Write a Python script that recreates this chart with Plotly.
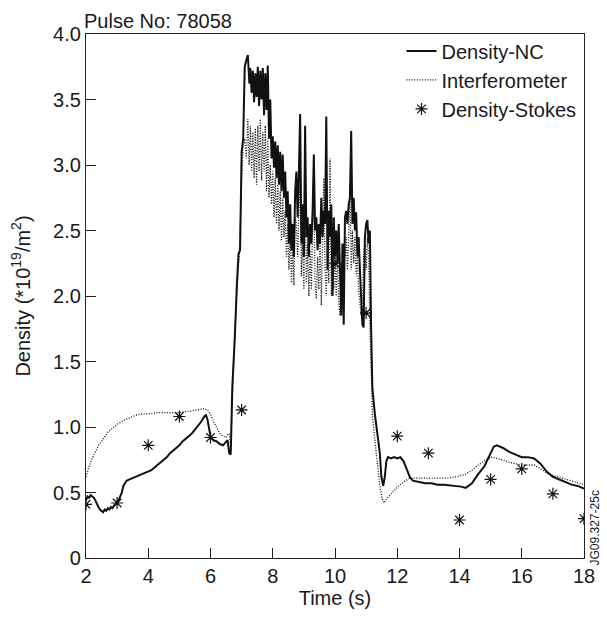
import plotly.graph_objects as go

# ---------------- data ----------------
nc_t = [2.0, 2.05, 2.1, 2.15, 2.2, 2.25, 2.3, 2.35, 2.4, 2.45, 2.5, 2.55, 2.6, 2.65, 2.7, 2.75, 2.8, 2.85, 2.9, 2.95,
        3.0, 3.05, 3.1, 3.15, 3.2, 3.25, 3.3, 3.4, 3.5, 3.6, 3.7, 3.8, 3.9, 4.0, 4.1, 4.2, 4.3, 4.4, 4.5, 4.6, 4.7,
        4.8, 4.9, 5.0, 5.1, 5.2, 5.3, 5.4, 5.5, 5.6, 5.7, 5.8, 5.85, 5.9, 5.95, 6.0, 6.05, 6.1, 6.2, 6.3, 6.4, 6.5,
        6.55, 6.6, 6.65, 6.7, 6.75, 6.78, 6.85, 6.9, 6.95, 7.0, 7.05, 7.1, 7.15, 7.2, 7.25, 7.28, 7.32, 7.36, 7.4,
        7.44, 7.48, 7.52, 7.56, 7.6, 7.64, 7.68, 7.72, 7.76, 7.8, 7.84, 7.88, 7.92, 7.96, 8.0, 8.04, 8.08, 8.12,
        8.16, 8.2, 8.24, 8.28, 8.32, 8.36, 8.4, 8.44, 8.48, 8.52, 8.56, 8.6, 8.64, 8.68, 8.72, 8.76, 8.8, 8.84,
        8.88, 8.92, 8.96, 9.0, 9.04, 9.08, 9.12, 9.16, 9.2, 9.24, 9.28, 9.32, 9.36, 9.4, 9.44, 9.48, 9.52, 9.56,
        9.6, 9.64, 9.68, 9.72, 9.76, 9.8, 9.84, 9.88, 9.92, 9.96, 10.0, 10.04, 10.08, 10.12, 10.16, 10.2, 10.24,
        10.28, 10.32, 10.36, 10.4, 10.44, 10.48, 10.52, 10.56, 10.6, 10.64, 10.68, 10.72, 10.76, 10.8, 10.84,
        10.88, 10.92, 10.96, 11.0, 11.04, 11.08, 11.12, 11.16, 11.2, 11.28, 11.36, 11.44, 11.49, 11.55, 11.6,
        11.65, 11.7, 11.8, 11.9, 12.0, 12.1, 12.2, 12.3, 12.4, 12.5, 12.7, 12.9, 13.1, 13.3, 13.5, 13.7, 13.9,
        14.05, 14.2, 14.4, 14.6, 14.8, 14.9, 15.0, 15.1, 15.2, 15.4, 15.6, 15.8, 16.0, 16.2, 16.4, 16.6, 16.8,
        17.0, 17.2, 17.4, 17.6, 17.8, 18.0]
nc_v = [0.44, 0.47, 0.46, 0.48, 0.47, 0.46, 0.44, 0.41, 0.39, 0.37, 0.36, 0.35, 0.37, 0.36, 0.38, 0.37, 0.39, 0.38,
        0.40, 0.41, 0.43, 0.44, 0.47, 0.50, 0.55, 0.57, 0.59, 0.60, 0.61, 0.62, 0.63, 0.64, 0.65, 0.66, 0.67, 0.69,
        0.71, 0.73, 0.75, 0.77, 0.80, 0.82, 0.84, 0.86, 0.89, 0.91, 0.93, 0.95, 0.98, 1.01, 1.04, 1.08, 1.09, 1.06,
        0.98, 0.93, 0.91, 0.90, 0.89, 0.87, 0.86, 0.89, 0.90, 0.80, 0.79, 1.30, 1.62, 1.68, 2.10, 2.32, 2.35, 3.10,
        3.20, 3.75, 3.80, 3.84, 3.62, 3.74, 3.55, 3.72, 3.48, 3.70, 3.52, 3.75, 3.45, 3.72, 3.50, 3.74, 3.38, 3.70,
        3.42, 3.76, 3.20, 3.50, 3.05, 3.22, 2.98, 3.18, 2.90, 3.15, 2.85, 3.10, 2.80, 3.08, 2.75, 2.95, 2.60, 2.80,
        2.40, 2.70, 2.35, 2.55, 2.30, 2.80, 2.95, 2.60, 2.95, 3.39, 2.40, 2.70, 2.30, 3.30, 2.45, 2.60, 2.30, 2.55,
        2.40, 2.65, 3.08, 2.50, 2.60, 2.35, 2.55, 2.40, 2.75, 2.45, 2.65, 2.55, 3.37, 2.20, 2.65, 2.45, 2.70, 2.00,
        2.60, 2.30, 2.50, 2.25, 2.55, 2.20, 1.85, 2.40, 1.78, 2.60, 2.65, 2.55, 2.70, 2.75, 3.26, 2.55, 2.75, 2.50,
        2.64, 2.30, 2.45, 2.20, 1.95, 1.78, 1.76, 2.45, 2.55, 2.58, 2.40, 2.50, 1.76, 1.30, 1.10, 0.95, 0.80, 0.62,
        0.55, 0.62, 0.74, 0.77, 0.76, 0.77, 0.76, 0.77, 0.74, 0.68, 0.62, 0.59, 0.58, 0.57, 0.57, 0.56, 0.56, 0.555,
        0.55, 0.545, 0.535, 0.57, 0.64, 0.70, 0.75, 0.80, 0.85, 0.86, 0.84, 0.81, 0.79, 0.77, 0.77, 0.76, 0.72,
        0.66, 0.62, 0.60, 0.58, 0.56, 0.55, 0.53, 0.51]

int_t = [2.0, 2.1, 2.2, 2.3, 2.4, 2.5, 2.6, 2.7, 2.8, 2.9, 3.0, 3.2, 3.4, 3.6, 3.8, 4.0, 4.3, 4.6, 5.0, 5.3, 5.6,
         5.8, 5.9, 6.0, 6.1, 6.2, 6.3, 6.4, 6.5, 6.55, 6.6, 6.65, 6.7, 6.75, 6.85, 6.92, 7.0, 7.05, 7.1, 7.15, 7.2,
         7.24, 7.28, 7.32, 7.36, 7.4, 7.44, 7.48, 7.52, 7.56, 7.6, 7.64, 7.68, 7.72, 7.76, 7.8, 7.84, 7.88, 7.92,
         7.96, 8.0, 8.04, 8.08, 8.12, 8.16, 8.2, 8.24, 8.28, 8.32, 8.36, 8.4, 8.44, 8.48, 8.52, 8.56, 8.6, 8.64,
         8.68, 8.72, 8.76, 8.8, 8.84, 8.88, 8.92, 8.96, 9.0, 9.04, 9.08, 9.12, 9.16, 9.2, 9.24, 9.28, 9.32, 9.36,
         9.4, 9.44, 9.48, 9.52, 9.56, 9.6, 9.64, 9.68, 9.72, 9.76, 9.8, 9.84, 9.88, 9.92, 9.96, 10.0, 10.04, 10.08,
         10.12, 10.16, 10.2, 10.24, 10.28, 10.32, 10.36, 10.4, 10.44, 10.48, 10.52, 10.56, 10.6, 10.64, 10.68,
         10.72, 10.76, 10.8, 10.84, 10.88, 10.92, 10.96, 11.0, 11.04, 11.08, 11.12, 11.16, 11.2, 11.28, 11.36,
         11.44, 11.52, 11.58, 11.65, 11.8, 12.0, 12.2, 12.4, 12.7, 13.0, 13.3, 13.6, 13.9, 14.2, 14.4, 14.6, 14.8,
         15.0, 15.2, 15.4, 15.6, 15.8, 16.0, 16.2, 16.4, 16.6, 16.8, 17.0, 17.3, 17.6, 17.8, 18.0]
int_v = [0.62, 0.70, 0.76, 0.81, 0.86, 0.89, 0.93, 0.96, 0.98, 1.00, 1.02, 1.05, 1.07, 1.09, 1.10, 1.10, 1.11, 1.11,
         1.11, 1.12, 1.13, 1.14, 1.13, 1.10, 1.04, 0.99, 0.95, 0.93, 0.92, 0.94, 0.95, 0.85, 1.25, 1.55, 2.05, 2.30,
         2.90, 3.15, 3.20, 3.05, 3.35, 3.00, 3.30, 2.95, 3.25, 2.90, 3.28, 2.85, 3.30, 2.95, 3.35, 2.88, 3.25, 2.95,
         3.30, 2.80, 3.20, 2.75, 3.00, 2.70, 2.95, 2.60, 2.90, 2.55, 2.85, 2.50, 2.80, 2.42, 2.75, 2.45, 2.65, 2.30,
         2.55, 2.20, 2.50, 2.10, 2.40, 2.08, 2.60, 2.55, 2.30, 2.70, 2.95, 2.15, 2.45, 2.05, 2.80, 2.10, 2.40, 2.00,
         2.35, 2.05, 2.55, 2.70, 2.10, 1.98, 2.30, 2.05, 2.45, 1.93, 2.40, 2.90, 2.20, 2.00, 2.40, 2.10, 3.05, 2.00,
         2.35, 2.05, 2.30, 2.00, 2.35, 1.95, 1.85, 2.25, 2.03, 2.40, 2.30, 2.45, 2.20, 2.45, 2.85, 2.20, 2.50, 2.25,
         2.45, 2.15, 2.30, 2.05, 1.95, 1.85, 1.95, 2.30, 2.40, 2.20, 2.45, 2.30, 1.80, 1.40, 1.10, 0.90, 0.70, 0.55,
         0.45, 0.42, 0.45, 0.49, 0.54, 0.58, 0.61, 0.61, 0.61, 0.61, 0.61, 0.62, 0.64, 0.67, 0.71, 0.74, 0.77, 0.76,
         0.75, 0.73, 0.72, 0.71, 0.71, 0.71, 0.68, 0.65, 0.63, 0.61, 0.59, 0.575, 0.56]

stokes_t = [2, 3, 4, 5, 6, 7, 10, 11, 12, 13, 14, 15, 16, 17, 18]
stokes_v = [0.41, 0.42, 0.86, 1.08, 0.92, 1.13, 2.25, 1.87, 0.93, 0.80, 0.29, 0.60, 0.68, 0.49, 0.30]

x_ticks = [2, 4, 6, 8, 10, 12, 14, 16, 18]
y_ticks = [0, 0.5, 1.0, 1.5, 2.0, 2.5, 3.0, 3.5, 4.0]
y_tick_text = ["0", "0.5", "1.0", "1.5", "2.0", "2.5", "3.0", "3.5", "4.0"]

FONT = "Liberation Sans, Arial, sans-serif"
FS = 20

fig = go.Figure()
fig.add_trace(go.Scatter(x=nc_t, y=nc_v, mode="lines", name="Density-NC",
                         line=dict(color="#111111", width=2.0)))
fig.add_trace(go.Scatter(x=int_t, y=int_v, mode="lines", name="Interferometer",
                         line=dict(color="#111111", width=1.3, dash="1px,1.6px")))
fig.add_trace(go.Scatter(x=stokes_t, y=stokes_v, mode="markers", name="Density-Stokes",
                         marker=dict(symbol="asterisk-open", size=10, color="#111111",
                                     line=dict(color="#111111", width=1.2))))

fig.update_layout(
    width=607, height=617,
    margin=dict(l=86, r=14, t=34, b=55),
    paper_bgcolor="white", plot_bgcolor="white",
    font=dict(family=FONT, size=FS, color="#1a1a1a"),
    showlegend=True,
    legend=dict(x=0.995, y=1.005, xanchor="right", yanchor="top",
                bgcolor="rgba(0,0,0,0)", borderwidth=0,
                font=dict(size=FS), tracegroupgap=0, itemwidth=30),
    xaxis=dict(range=[2, 18], tickvals=x_ticks, ticks="inside", ticklen=10,
               tickwidth=1.2, tickcolor="#222", showline=True, linecolor="#222",
               linewidth=1.3, mirror=True, showgrid=False, zeroline=False,
               tickfont=dict(size=FS),
               title=dict(text="Time (s)", standoff=4, font=dict(size=FS))),
    yaxis=dict(range=[0, 4], tickvals=y_ticks, ticktext=y_tick_text, ticks="inside",
               ticklen=10, tickwidth=1.2, tickcolor="#222", showline=True,
               linecolor="#222", linewidth=1.3, mirror=True, showgrid=False,
               zeroline=False, tickfont=dict(size=FS),
               title=dict(text="Density (*10<sup>19</sup>/m<sup>2</sup>)", standoff=17,
                          font=dict(size=FS))),
    annotations=[
        dict(text="Pulse No: 78058", x=0, y=1.0, xref="paper", yref="paper",
             xanchor="left", yanchor="bottom", showarrow=False, yshift=0,
             xshift=-4, font=dict(size=FS)),
        dict(text="JG09.327-25c", x=1.0, y=0.0, xref="paper", yref="paper",
             xanchor="left", yanchor="bottom", showarrow=False, textangle=-90,
             xshift=1, yshift=-10, font=dict(size=12)),
    ],
)

fig.write_html("out.html")
